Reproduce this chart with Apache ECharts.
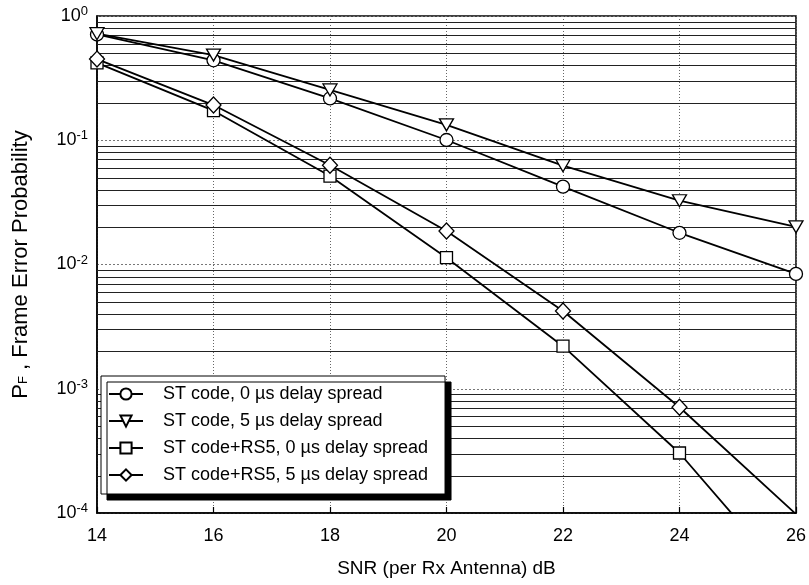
<!DOCTYPE html>
<html>
<head>
<meta charset="utf-8">
<script src="https://cdn.jsdelivr.net/npm/echarts@6/dist/echarts.min.js"></script>
<style>
html,body{margin:0;padding:0;background:#fff;}
#chart{width:809px;height:585px;}
</style>
</head>
<body>
<div id="chart"></div>
<script>
// ---- data ----
var snr = [14, 16, 18, 20, 22, 24, 26];
var stCode0 = [0.71, 0.44, 0.217, 0.1005, 0.0423, 0.018, 0.0084];
var stCode5 = [0.72, 0.485, 0.254, 0.133, 0.0624, 0.0326, 0.0201];
var stRs0   = [0.42, 0.173, 0.0515, 0.01135, 0.0022, 0.000304, 0.000025];
var stRs5   = [0.45, 0.192, 0.063, 0.0186, 0.00422, 0.00071, 0.000098];
var seriesNames = [
  'ST code, 0 \u00b5s delay spread',
  'ST code, 5 \u00b5s delay spread',
  'ST code+RS5, 0 \u00b5s delay spread',
  'ST code+RS5, 5 \u00b5s delay spread'
];
var xTicks = [14, 16, 18, 20, 22, 24, 26];
var yExponents = [-4, -3, -2, -1, 0];
var minorMultipliers = [2, 3, 4, 5, 6, 7, 8, 9];

// ---- build ----
var FONT = '"Liberation Sans", Arial, Helvetica, sans-serif';
var yMin = Math.pow(10, yExponents[0]);
var yMax = Math.pow(10, yExponents[yExponents.length - 1]);
var xMin = xTicks[0], xMax = xTicks[xTicks.length - 1];

var minorValues = [];
for (var i = 0; i < yExponents.length - 1; i++) {
  for (var j = 0; j < minorMultipliers.length; j++) {
    minorValues.push([xMin, minorMultipliers[j] * Math.pow(10, yExponents[i])]);
  }
}

function toPairs(vals) {
  return snr.map(function (x, k) {
    var item = { value: [x, vals[k]] };
    if (vals[k] < 1.05e-4) { item.symbol = 'none'; }
    return item;
  });
}

var symbolDefs = [
  { symbol: 'circle', size: 13, rotate: 0 },
  { symbol: 'triangle', size: [14, 12], rotate: 180 },
  { symbol: 'rect', size: 12, rotate: 0 },
  { symbol: 'diamond', size: [15, 16], rotate: 0 }
];
var allData = [stCode0, stCode5, stRs0, stRs5];

var series = [{
  name: 'minor-grid',
  type: 'custom',
  z: 1,
  silent: true,
  clip: true,
  data: minorValues,
  renderItem: function (params, api) {
    var v = api.value(1);
    var p1 = api.coord([xMin, v]);
    var p2 = api.coord([xMax, v]);
    return {
      type: 'line',
      shape: { x1: p1[0], y1: Math.round(p1[1]) + 0.5, x2: p2[0], y2: Math.round(p2[1]) + 0.5 },
      style: { stroke: '#222', lineWidth: 1.1 }
    };
  }
}];

allData.forEach(function (vals, k) {
  series.push({
    name: seriesNames[k],
    type: 'line',
    data: toPairs(vals),
    symbol: symbolDefs[k].symbol,
    symbolSize: symbolDefs[k].size,
    symbolRotate: symbolDefs[k].rotate,
    showAllSymbol: true,
    clip: true,
    z: 5,
    lineStyle: { color: '#000', width: 1.8 },
    itemStyle: { color: '#fff', borderColor: '#000', borderWidth: 1.3 }
  });
});

var chart = echarts.init(document.getElementById('chart'), null, { renderer: 'canvas' });
chart.setOption({
  animation: false,
  backgroundColor: '#fff',
  textStyle: { fontFamily: FONT },
  grid: {
    left: 97, right: 10, top: 16, bottom: 72,
    show: true, borderColor: '#000', borderWidth: 1.5, backgroundColor: 'transparent'
  },
  legend: {
    data: seriesNames,
    orient: 'vertical',
    left: 101, top: 376,
    padding: [9, 17, 10, 7],
    itemWidth: 34, itemHeight: 14, itemGap: 9,
    backgroundColor: '#fff',
    borderColor: '#000', borderWidth: 1,
    shadowColor: '#000', shadowBlur: 0, shadowOffsetX: 6, shadowOffsetY: 6,
    formatter: function (n) { return '   ' + n; },
    textStyle: { fontFamily: FONT, fontSize: 18, color: '#000', lineHeight: 18 }
  },
  xAxis: {
    type: 'value',
    min: xMin, max: xMax, interval: 2,
    name: 'SNR (per Rx Antenna) dB',
    nameLocation: 'middle', nameGap: 46,
    nameTextStyle: { fontFamily: FONT, fontSize: 19, color: '#000' },
    axisLine: { show: true, lineStyle: { color: '#000', width: 1.5 } },
    axisTick: { show: true, inside: true, length: 6, lineStyle: { color: '#000', width: 1.2 } },
    axisLabel: { fontFamily: FONT, fontSize: 18, color: '#000', margin: 14 },
    splitLine: { show: true, lineStyle: { color: '#666', width: 1, type: [1, 2] } }
  },
  yAxis: {
    type: 'log', logBase: 10,
    min: yMin, max: yMax,
    name: '{p|P}{s|F}{p| , Frame Error Probability}',
    nameLocation: 'middle', nameGap: 60, nameRotate: 90,
    nameTextStyle: {
      fontFamily: FONT, color: '#000',
      rich: {
        p: { fontFamily: FONT, fontSize: 22, color: '#000', padding: [0, 0, 5, 0] },
        s: { fontFamily: FONT, fontSize: 13, color: '#000' }
      }
    },
    axisLine: { show: true, lineStyle: { color: '#000', width: 1.5 } },
    axisTick: { show: false },
    axisLabel: {
      margin: 9,
      fontSize: 18,
      formatter: function (v) {
        var e = Math.round(Math.log(v) / Math.LN10);
        return '{b|10}{e|' + e + '}';
      },
      rich: {
        b: { fontFamily: FONT, fontSize: 18, color: '#000' },
        e: { fontFamily: FONT, fontSize: 13, color: '#000', padding: [0, 0, 9, 0] }
      }
    },
    splitLine: { show: true, lineStyle: { color: '#777', width: 1, type: [2, 2] } }
  },
  series: series
});
</script>
</body>
</html>
